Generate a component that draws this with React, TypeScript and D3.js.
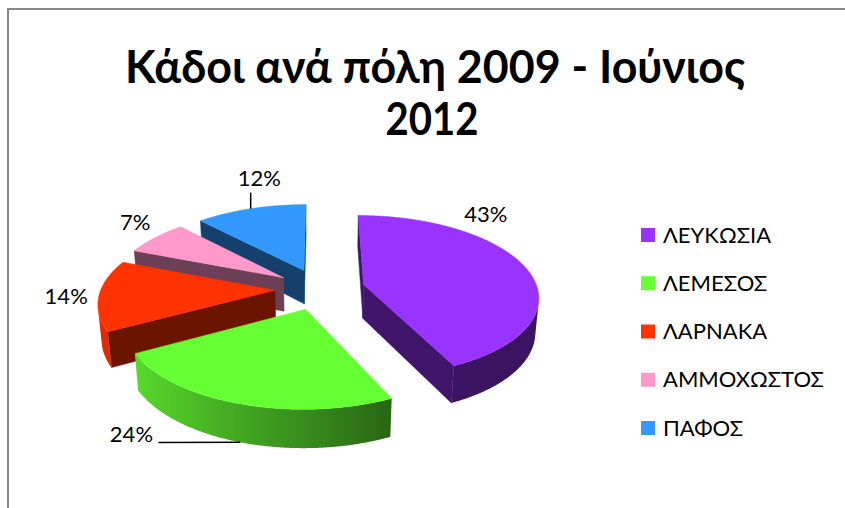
import React from 'react';
import * as d3 from 'd3';

// ---- data ----
const categories = ['ΛΕΥΚΩΣΙΑ', 'ΛΕΜΕΣΟΣ', 'ΛΑΡΝΑΚΑ', 'ΑΜΜΟΧΩΣΤΟΣ', 'ΠΑΦΟΣ'];
const values = [43, 24, 14, 7, 12];
const labels = ['43%', '24%', '14%', '7%', '12%'];
const colors = ['#9933FF', '#66FF33', '#FF3300', '#FF99CC', '#3399FF'];
const titleLines = ['Κάδοι ανά πόλη 2009 - Ιούνιος', '2012'];

// label placement (angle in degrees clockwise from 12 o'clock, radius factor)
const labelAngles = [39.7, 213, 266.6, 308.9, 347.1];
const labelRadii = [1.32, 1.44, 1.185, 1.27, 1.51];
const leaderTo = [null, 'bottom', null, null, 'top'];

// ---- geometry ----
const W = 845, HGT = 508;
const cx = 320, cy = 289;
const R = 174, thick = 39, explode = 45;
const alpha = (27.3 * Math.PI) / 180;
const focal = 1110;
const ca = Math.cos(alpha), sa = Math.sin(alpha);
const cam = [0, focal * sa, -focal * ca];

function project(X: number, Y: number, Z: number): [number, number] {
  const zc = -Y * sa + Z * ca;
  const s = focal / (focal + zc);
  const yc = Y * ca + Z * sa;
  return [cx + X * s, cy - yc * s];
}

function shade(c: string, k: number) {
  const r = d3.rgb(c);
  return d3.rgb(r.r * k, r.g * k, r.b * k).formatHex();
}

const pathOf = (pts: [number, number][]) => 'M' + pts.map((p) => p[0].toFixed(2) + ',' + p[1].toFixed(2)).join('L') + 'Z';

export default function App() {
  const pie = d3.pie<number>().sort(null).value((d) => d).startAngle(0).endAngle(2 * Math.PI);
  const arcs = pie(values);

  const slices = arcs.map((a, i) => {
    const a0 = a.startAngle, a1 = a.endAngle;
    const mid = (a0 + a1) / 2;
    const ox = explode * Math.sin(mid), oz = explode * Math.cos(mid);
    const n = Math.max(8, Math.ceil(((a1 - a0) * 180) / Math.PI / 0.5));
    const ts = d3.range(n + 1).map((j) => a0 + ((a1 - a0) * j) / n);
    const P = (t: number, Y: number) => project(ox + R * Math.sin(t), Y, oz + R * Math.cos(t));
    const apexTop = project(ox, 0, oz);
    const apexBot = project(ox, -thick, oz);
    const top = pathOf([apexTop, ...ts.map((t) => P(t, 0))]);

    // radial walls
    const walls: string[] = [];
    const vis = (nx: number, nz: number, X: number, Z: number) => nx * (cam[0] - X) + nz * (cam[2] - Z) > 0;
    if (vis(-Math.cos(a0), Math.sin(a0), ox, oz)) {
      walls.push(pathOf([apexTop, P(a0, 0), P(a0, -thick), apexBot]));
    }
    if (vis(Math.cos(a1), -Math.sin(a1), ox, oz)) {
      walls.push(pathOf([apexTop, P(a1, 0), P(a1, -thick), apexBot]));
    }

    // outer wall visible ranges
    const outer: { d: string; x1: number; x2: number; stops: { o: number; c: string }[] }[] = [];
    let cur: number[] = [];
    const kOf = (t: number) => Math.max(0.38, Math.min(0.9, 0.55 - 0.35 * Math.sin(t)));
    const flush = () => {
      if (cur.length > 1) {
        const topPts = cur.map((t) => P(t, 0));
        const botPts = cur.map((t) => P(t, -thick)).reverse();
        const x1 = topPts[0][0], x2 = topPts[topPts.length - 1][0];
        const step = Math.max(1, Math.floor(cur.length / 12));
        const stops: { o: number; c: string }[] = [];
        for (let j = 0; j < cur.length; j += step) {
          const o = x2 === x1 ? 0 : (topPts[j][0] - x1) / (x2 - x1);
          stops.push({ o: Math.max(0, Math.min(1, o)), c: shade(colors[i], kOf(cur[j])) });
        }
        stops.push({ o: 1, c: shade(colors[i], kOf(cur[cur.length - 1])) });
        outer.push({ d: pathOf([...topPts, ...botPts]), x1, x2, stops });
      }
      cur = [];
    };
    ts.forEach((t) => {
      const X = ox + R * Math.sin(t), Z = oz + R * Math.cos(t);
      if (vis(Math.sin(t), Math.cos(t), X, Z)) cur.push(t);
      else flush();
    });
    flush();

    // label
    const la = (labelAngles[i] * Math.PI) / 180;
    const lr = labelRadii[i] * R;
    const lp = project(ox + lr * Math.sin(la), 0, oz + lr * Math.cos(la));
    let leader: [number, number][] | null = null;
    if (leaderTo[i] === 'top') {
      const end = P(mid, 0);
      leader = [[end[0], lp[1] + 14], end];
    } else if (leaderTo[i] === 'bottom') {
      const end = P(mid, -thick);
      leader = [[lp[0] + 27, lp[1] + 8], end];
    }
    return { i, oz, top, walls, outer, lp, leader };
  });

  const order = [...slices].sort((a, b) => b.oz - a.oz);
  const legendY = d3.scaleLinear().domain([0, categories.length - 1]).range([235, 428]);
  const font = 'Lato, Carlito, "Open Sans", sans-serif';

  return (
    <svg width={W} height={HGT} style={{ position: 'absolute', left: 0, top: 0, background: '#fff' }}>
      <rect x={0} y={0} width={W} height={HGT} fill="#fff" />
      <rect x={8} y={9} width={900} height={600} fill="none" stroke="#888" strokeWidth={2} />
      <defs>
        {slices.map((s) =>
          s.outer.map((o, k) => (
            <linearGradient key={`g${s.i}-${k}`} id={`g${s.i}-${k}`} gradientUnits="userSpaceOnUse" x1={o.x1} y1={0} x2={o.x2} y2={0}>
              {o.stops.map((st, m) => (
                <stop key={m} offset={st.o} stopColor={st.c} />
              ))}
            </linearGradient>
          ))
        )}
      </defs>
      <g fontFamily={font} fontWeight="bold" fontSize={45} textAnchor="middle" fill="#000">
        <text x={435} y={83} textLength={620} lengthAdjust="spacingAndGlyphs">{titleLines[0]}</text>
        <text x={432} y={135} textLength={93} lengthAdjust="spacingAndGlyphs">{titleLines[1]}</text>
      </g>
      <g>
        {order.map((s) => (
          <g key={s.i}>
            {s.walls.map((d, k) => (
              <path key={'w' + k} d={d} fill={shade(colors[s.i], 0.42)} stroke={shade(colors[s.i], 0.42)} strokeWidth={0.5} />
            ))}
            {s.outer.map((o, k) => (
              <path key={'o' + k} d={o.d} fill={`url(#g${s.i}-${k})`} />
            ))}
            <path d={s.top} fill={colors[s.i]} stroke={colors[s.i]} strokeWidth={0.5} />
          </g>
        ))}
      </g>
      <g fontFamily={font} fontSize={22} fill="#000" textAnchor="middle">
        {slices.map((s) => (
          <g key={'l' + s.i}>
            <text x={s.lp[0]} y={s.lp[1]} dy="0.35em">{labels[s.i]}</text>
            {s.leader && (
              <line x1={s.leader[0][0]} y1={s.leader[0][1]} x2={s.leader[1][0]} y2={s.leader[1][1]} stroke="#000" strokeWidth={1.5} />
            )}
          </g>
        ))}
      </g>
      <g fontFamily={font} fontSize={22} fill="#000">
        {categories.map((c, i) => (
          <g key={c}>
            <rect x={641} y={legendY(i) - 7} width={14} height={14} fill={colors[i]} />
            <text x={663} y={legendY(i)} dy="0.35em">{c}</text>
          </g>
        ))}
      </g>
    </svg>
  );
}
